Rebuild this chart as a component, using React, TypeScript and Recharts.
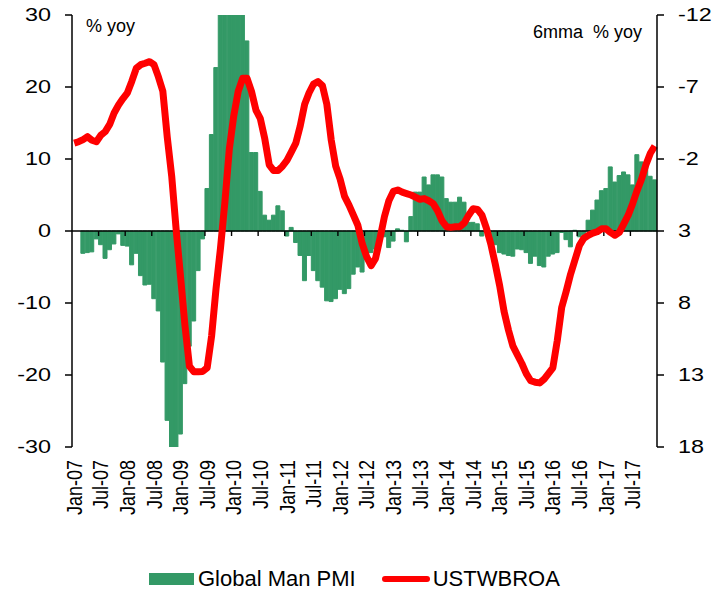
import React from "react";
import { ComposedChart, Bar, Line, XAxis, YAxis, ReferenceLine, Legend } from "recharts";

const FONT = '"Liberation Sans", Arial, sans-serif';

// Monthly categories Jan-07 .. Dec-17
const years = ["07", "08", "09", "10", "11", "12", "13", "14", "15", "16", "17"];
const monthNames = ["Jan", "Feb", "Mar", "Apr", "May", "Jun", "Jul", "Aug", "Sep", "Oct", "Nov", "Dec"];
const months = years.flatMap((y) => monthNames.map((m) => `${m}-${y}`));

// Global Man PMI, % yoy (left axis)
const pmi = [
  null, null, -3.1, -3.0, -2.9, -1.1, -1.9, -3.8, -2.6, -1.8, -0.4, -2.0,
  -2.1, -4.7, -3.1, -6.2, -7.5, -7.4, -9.4, -11.1, -18.2, -26.3, -31, -31,
  -28.2, -21.2, -16, -12.5, -5.5, -1.1, 5.9, 13.4, 22.7, 31, 33, 35,
  35, 33, 31, 26.4, 10.9, 10.9, 5.5, 2.2, 1.5, 2.2, 3.5, 2.8,
  -0.7, 0.5, -1.6, -3.4, -6.9, -3.4, -5.5, -6.9, -7.8, -9.7, -9.8, -9.4,
  -8.1, -8.7, -8.0, -6.0, -5.0, -5.7, -4.0, -3.0, -2.5, -1.2, -0.8, -2.3,
  -1.4, 0.3, 0.1, -1.5, 2.0, 5.4, 5.4, 7.5, 6.4, 7.8, 7.8, 7.5,
  4.5, 4.0, 4.0, 4.7, 4.0, 1.2, 1.2, 1.0, -0.7, 0.2, -1.2, -1.9,
  -3.0, -3.2, -3.4, -3.5, -2.5, -2.6, -3.0, -4.5, -3.5, -4.8, -5.0, -3.5,
  -3.2, -3.0, -0.2, -1.2, -2.2, 0.1, -0.8, -0.5, 1.5, 2.9, 4.3, 5.6,
  5.9, 8.9, 6.8, 7.7, 8.2, 7.8, 6.4, 10.6, 9.6, 9.4, 7.6, 7.1,
];

// USTWBROA, 6mma % yoy (right axis, inverted)
const ustw = [
  -3.1, -3.2, -3.35, -3.55, -3.3, -3.2, -3.65, -3.9, -4.4, -5.2, -5.75, -6.2,
  -6.6, -7.4, -8.3, -8.55, -8.65, -8.76, -8.55, -7.7, -6.7, -3.5, -0.8, 2.9,
  6.2, 9.6, 12.4, 12.77, 12.77, 12.75, 12.5, 10.3, 7.0, 4.2, 1.0, -2.7,
  -5.0, -6.7, -7.6, -7.6, -6.7, -5.4, -4.8, -3.4, -1.6, -1.2, -1.2, -1.5,
  -1.9, -2.5, -3.1, -4.3, -5.8, -6.6, -7.2, -7.37, -7.1, -5.8, -3.3, -1.5,
  -0.6, 0.6, 1.2, 1.9, 2.6, 3.9, 4.8, 5.4, 4.9, 3.5, 2.0, 0.9,
  0.25, 0.15, 0.3, 0.4, 0.5, 0.65, 0.8, 0.75, 0.9, 1.1, 1.6, 2.3,
  2.7, 2.75, 2.7, 2.7, 2.45, 1.9, 1.45, 1.5, 1.9, 2.8, 3.9, 5.3,
  6.8, 8.6, 9.9, 11.0, 11.6, 12.2, 12.9, 13.4, 13.5, 13.55, 13.3, 12.9,
  12.5, 10.6, 8.3, 7.2, 6.0, 5.0, 4.0, 3.5, 3.3, 3.15, 3.05, 2.85,
  2.85, 3.1, 3.3, 3.1, 2.5, 1.9, 1.1, 0.2, -0.6, -1.6, -2.4, -2.9,
];

const leftTicks = [-30, -20, -10, 0, 10, 20, 30];
const rightTicks = [-12, -7, -2, 3, 8, 13, 18];

const data = months.map((m, i) => ({ month: m, pmi: pmi[i], ustw: ustw[i] }));

// zero line drawn with the small category tick marks every 6 months
const renderZeroLine = (p: any) => {
  const { x1, x2, y1 } = p;
  const band = (x2 - x1) / months.length;
  const marks: number[] = [];
  for (let k = 6; k < months.length; k += 6) marks.push(x1 + k * band);
  return (
    <g>
      <line x1={x1} x2={x2} y1={y1} y2={y1} stroke="#000" strokeWidth={1.6} />
      {marks.map((t) => (
        <line key={t} x1={t} x2={t} y1={y1} y2={y1 + 5} stroke="#000" strokeWidth={1.4} />
      ))}
    </g>
  );
};

// the original chart's text is a bit wider than the font, so stretch it sideways
const XTick = ({ x, y, payload }: any) => (
  <text
    x={0}
    y={0}
    transform={`translate(${x}, ${y}) rotate(-90) scale(1, 1.2)`}
    textAnchor="end"
    dominantBaseline="central"
    fontSize={18}
    fontFamily={FONT}
    fill="#000"
  >
    {payload.value}
  </text>
);

const YTick = ({ x, y, payload, textAnchor }: any) => (
  <text
    x={0}
    y={0}
    dy="0.36em"
    transform={`translate(${x}, ${y}) scale(1.3, 1)`}
    textAnchor={textAnchor}
    fontSize={18}
    fontFamily={FONT}
    fill="#000"
  >
    {payload.value}
  </text>
);

const renderLegend = (props: any) => {
  const { payload } = props;
  return (
    <div
      style={{
        display: "flex",
        alignItems: "center",
        height: 26,
        paddingLeft: 149,
        fontFamily: FONT,
        fontSize: 22,
        lineHeight: "26px",
        color: "#000",
      }}
    >
      {(payload || []).map((entry: any, i: number) => (
        <div key={entry.value} style={{ display: "flex", alignItems: "center", marginLeft: i === 0 ? 0 : 26 }}>
          {entry.type === "line" ? (
            <div style={{ width: 48, height: 6, borderRadius: 3, background: entry.color, marginRight: 3 }} />
          ) : (
            <div style={{ width: 45, height: 12, background: entry.color, marginRight: 4 }} />
          )}
          <span>{entry.value}</span>
        </div>
      ))}
    </div>
  );
};

export default function App() {
  return (
    <div style={{ position: "absolute", left: 0, top: 0, width: 719, height: 590, background: "#fff" }}>
      <ComposedChart
        width={719}
        height={590}
        data={data}
        margin={{ top: 15, right: 0, bottom: 0, left: 0 }}
        barCategoryGap={0}
        barGap={0}
      >
        <XAxis
          dataKey="month"
          interval={5}
          height={143}
          axisLine={false}
          tickLine={false}
          tickSize={0}
          tickMargin={13}
          tick={(p: any) => <XTick {...p} />}
        />
        <YAxis
          yAxisId="left"
          width={72}
          domain={[-30, 30]}
          ticks={leftTicks}
          interval={0}
          allowDataOverflow
          tickSize={7}
          tickMargin={14}
          axisLine={{ stroke: "#000", strokeWidth: 1.5 }}
          tickLine={{ stroke: "#000", strokeWidth: 1.5 }}
          tick={(p: any) => <YTick {...p} />}
        />
        <YAxis
          yAxisId="right"
          orientation="right"
          width={62}
          reversed
          domain={[-12, 18]}
          ticks={rightTicks}
          interval={0}
          tickSize={7}
          tickMargin={14}
          axisLine={{ stroke: "#000", strokeWidth: 1.5 }}
          tickLine={{ stroke: "#000", strokeWidth: 1.5 }}
          tick={(p: any) => <YTick {...p} />}
        />
        <Bar
          yAxisId="left"
          dataKey="pmi"
          name="Global Man PMI"
          fill="#339966"
          stroke="#339966"
          strokeWidth={1}
          isAnimationActive={false}
        />
        <ReferenceLine yAxisId="left" y={0} shape={renderZeroLine} />
        <Line
          yAxisId="right"
          dataKey="ustw"
          name="USTWBROA"
          type="linear"
          stroke="#ff0000"
          strokeWidth={7}
          strokeLinejoin="round"
          dot={false}
          activeDot={false}
          isAnimationActive={false}
        />
        <Legend
          layout="vertical"
          align="center"
          verticalAlign="top"
          wrapperStyle={{ top: 566, left: 0, width: 719, height: 0, overflow: "visible", bottom: "auto" }}
          content={renderLegend}
        />
      </ComposedChart>
      <svg
        width={719}
        height={590}
        style={{ position: "absolute", left: 0, top: 0, pointerEvents: "none" }}
        fontFamily={FONT}
        fontSize={18}
      >
        <text x={86} y={32} fill="#000">% yoy</text>
        <text x={642} y={38} textAnchor="end" fill="#000" style={{ whiteSpace: "pre" }}>
          {"6mma  % yoy"}
        </text>
      </svg>
    </div>
  );
}
